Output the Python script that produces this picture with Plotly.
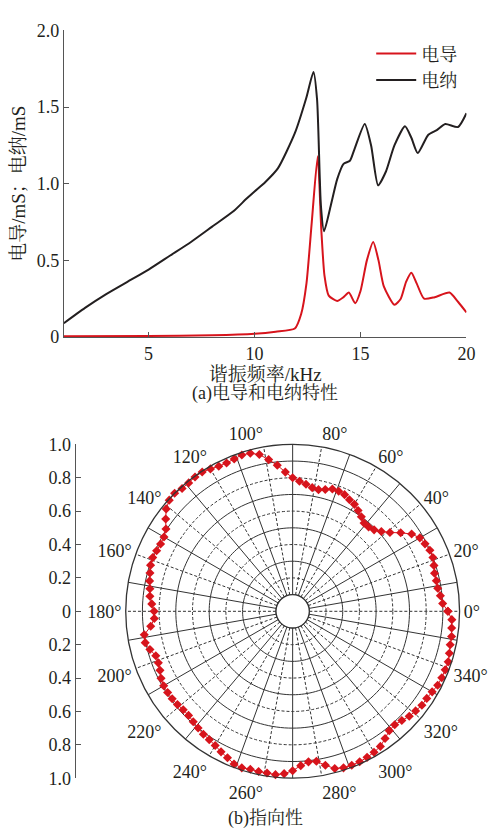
import plotly.graph_objects as go

# ---------------- data: (a) conductance / susceptance ----------------
freq_g = [1, 5, 8, 10, 11, 11.9, 12.2, 12.45, 12.7, 12.98, 13.15, 13.3, 13.5, 13.9, 14.2, 14.45,
          14.75, 15.0, 15.3, 15.6, 15.85, 16.1, 16.6, 16.9, 17.15, 17.4, 17.65, 18.0, 18.5, 19.2, 19.6, 20]
conductance = [0.005, 0.007, 0.012, 0.022, 0.035, 0.055, 0.15, 0.35, 0.75, 1.18, 0.7, 0.4, 0.27, 0.235, 0.26, 0.29,
               0.22, 0.3, 0.5, 0.62, 0.5, 0.33, 0.21, 0.25, 0.36, 0.42, 0.35, 0.25, 0.26, 0.29, 0.23, 0.16]

freq_b = [1, 2, 3, 4, 5, 6, 7, 8, 9, 9.6, 10, 10.5, 11.1, 11.9, 12.44, 12.78, 12.95, 13.13, 13.28, 13.6, 13.9,
          14.2, 14.5, 14.7, 15.2, 15.5, 15.83, 16.2, 16.6, 17.1, 17.4, 17.7, 18.2, 18.6, 19.0, 19.6, 20]
susceptance = [0.09, 0.19, 0.28, 0.36, 0.44, 0.53, 0.62, 0.72, 0.82, 0.9, 0.95, 1.01, 1.10, 1.33, 1.56, 1.73, 1.55, 0.86, 0.69, 0.86, 1.03,
               1.13, 1.15, 1.22, 1.39, 1.25, 0.99, 1.08, 1.25, 1.375, 1.3, 1.20, 1.32, 1.35, 1.39, 1.37, 1.46]

x_ticks = [5, 10, 15, 20]
y_ticks = [0, 0.5, 1.0, 1.5, 2.0]
y_ticktext = ["0", "0.5", "1.0", "1.5", "2.0"]

# ---------------- data: (b) directivity ----------------
angles = list(range(0, 360, 3))
directivity = [
    0.93, 0.90, 0.89, 0.88, 0.88, 0.88, 0.89, 0.90, 0.90, 0.89,
    0.88, 0.85, 0.80, 0.75, 0.715, 0.69, 0.68, 0.68, 0.70, 0.72,
    0.74, 0.75, 0.765, 0.77, 0.77, 0.755, 0.745, 0.75, 0.765, 0.78,
    0.80, 0.835, 0.88, 0.92, 0.96, 0.98, 0.985, 0.977, 0.973, 0.975,
    0.985, 0.995, 0.995, 0.99, 0.99, 1.0, 0.995, 0.975, 0.94, 0.905,
    0.89, 0.888, 0.892, 0.898, 0.895, 0.885, 0.876, 0.866, 0.86, 0.845,
    0.83, 0.83, 0.855, 0.90, 0.903, 0.885, 0.862, 0.862, 0.87, 0.885,
    0.892, 0.893, 0.892, 0.888, 0.882, 0.882, 0.89, 0.90, 0.91, 0.917,
    0.928, 0.945, 0.96, 0.98, 0.986, 0.98, 0.981, 0.981, 0.984, 0.974,
    0.955, 0.926, 0.907, 0.91, 0.943, 0.975, 0.986, 0.988, 0.987, 0.982,
    0.975, 0.965, 0.942, 0.92, 0.914, 0.925, 0.94, 0.948, 0.957, 0.958,
    0.965, 0.975, 0.978, 0.979, 0.98, 0.972, 0.965, 0.964, 0.958, 0.955,
]
angle_ticks = list(range(0, 360, 20))
angle_solid = list(range(10, 360, 20))
radial_dashed = [0.2, 0.4, 0.6, 0.8]
radial_solid = [0.1, 0.3, 0.5, 0.7, 0.9]
scale_vals = [-1.0, -0.8, -0.6, -0.4, -0.2, 0, 0.2, 0.4, 0.6, 0.8, 1.0]
scale_text = ["1.0", "0.8", "0.6", "0.4", "0.2", "0", "0.2", "0.4", "0.6", "0.8", "1.0"]

FONT = "'Liberation Serif', 'Noto Serif CJK SC', 'Noto Sans CJK SC', serif"
RED = "#d7141c"
BLACK = "#231f20"
W, H = 501, 838
HOLE = 0.1
DASH = "3px,2px"

def px_x(p):
    return p / W

def px_y(p):
    return 1 - p / H

fig = go.Figure()

fig.add_trace(go.Scatter(x=freq_g, y=conductance, mode="lines", name="电导",
                         line=dict(color=RED, width=2, shape="spline", smoothing=0.6)))
fig.add_trace(go.Scatter(x=freq_b, y=susceptance, mode="lines", name="电纳",
                         line=dict(color=BLACK, width=2, shape="spline", smoothing=0.6)))

# polar solid grid (circles and spokes)
circle_theta = list(range(0, 361, 2))
for r in radial_solid:
    fig.add_trace(go.Scatterpolar(r=[r] * len(circle_theta), theta=circle_theta, mode="lines",
                                  line=dict(color="#333", width=1), showlegend=False,
                                  hoverinfo="skip", subplot="polar"))
for a in angle_solid:
    fig.add_trace(go.Scatterpolar(r=[HOLE, 1], theta=[a, a], mode="lines",
                                  line=dict(color="#333", width=1), showlegend=False,
                                  hoverinfo="skip", subplot="polar"))

fig.add_trace(go.Scatterpolar(r=directivity + [directivity[0]], theta=angles + [angles[0]],
                              mode="lines+markers", subplot="polar", showlegend=False,
                              line=dict(color=RED, width=1),
                              marker=dict(symbol="diamond", size=7, color=RED)))

# helper axis for the left scale of the polar plot
fig.add_trace(go.Scatter(x=[0], y=[0], xaxis="x2", yaxis="y2", mode="markers",
                         marker=dict(opacity=0), showlegend=False, hoverinfo="skip"))

fig.update_layout(
    width=W, height=H, autosize=False,
    margin=dict(l=0, r=0, t=0, b=0),
    paper_bgcolor="white", plot_bgcolor="white",
    font=dict(family=FONT, size=18, color="#231f20"),
    xaxis=dict(domain=[px_x(65), px_x(475)], range=[1, 20], tickvals=x_ticks,
               showline=True, linecolor="#555", linewidth=1, ticks="inside", ticklen=5,
               tickcolor="#555", showgrid=False, zeroline=False, anchor="y",
               tickfont=dict(size=18),
               title=dict(text="谐振频率/kHz", font=dict(size=19), standoff=4)),
    yaxis=dict(domain=[px_y(335), px_y(21)], range=[0, 2], tickvals=y_ticks, ticktext=y_ticktext,
               showline=True, linecolor="#555", linewidth=1, ticks="inside", ticklen=5,
               tickcolor="#555", showgrid=False, zeroline=False, anchor="x",
               tickfont=dict(size=18),
               title=dict(text="电导/mS；电纳/mS", font=dict(size=19), standoff=6)),
    xaxis2=dict(domain=[px_x(77), px_x(90)], visible=False, anchor="y2", range=[0, 1]),
    yaxis2=dict(domain=[px_y(787), px_y(445)], range=[-1, 1], tickvals=scale_vals, ticktext=scale_text,
                showline=True, linecolor="#555", linewidth=1, ticks="inside", ticklen=5,
                tickcolor="#555", showgrid=False, zeroline=False, anchor="x2",
                tickfont=dict(size=18)),
    legend=dict(x=px_x(378), y=px_y(26), xanchor="left", yanchor="top",
                font=dict(size=18), bgcolor="rgba(0,0,0,0)", itemwidth=40, tracegroupgap=0),
    polar=dict(
        domain=dict(x=[px_x(127), px_x(469)], y=[px_y(787), px_y(445)]),
        hole=HOLE,
        bgcolor="white",
        radialaxis=dict(range=[HOLE, 1], tickvals=radial_dashed, showticklabels=False, ticks="",
                        showline=False, showgrid=True, gridcolor="#333", gridwidth=1, griddash=DASH),
        angularaxis=dict(rotation=0, direction="counterclockwise", tickvals=angle_ticks,
                         ticktext=[f"{a}°" for a in angle_ticks], ticks="",
                         showline=True, linecolor="#333", linewidth=1.3,
                         showgrid=True, gridcolor="#333", gridwidth=1, griddash=DASH,
                         tickfont=dict(size=18)),
    ),
    annotations=[
        dict(text="(a)电导和电纳特性", x=px_x(270), y=px_y(393), xref="paper", yref="paper",
             xanchor="center", yanchor="middle", showarrow=False, font=dict(size=18)),
        dict(text="(b)指向性", x=px_x(270), y=px_y(828), xref="paper", yref="paper",
             xanchor="center", yanchor="middle", showarrow=False, font=dict(size=18)),
    ],
)

fig.write_html("out.html", config={"displayModeBar": False, "responsive": False},
               post_script="document.body.style.margin='0px';document.body.style.overflow='hidden';")
